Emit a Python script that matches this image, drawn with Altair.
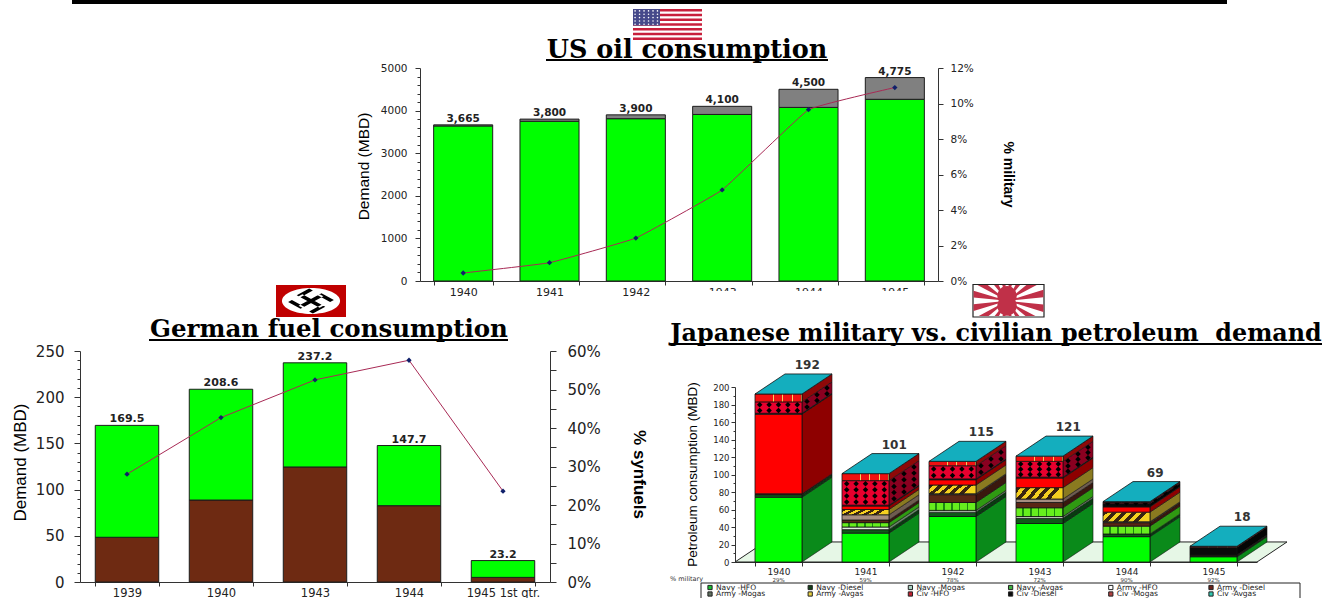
import math
import altair as alt
import pandas as pd

# ---- oil and fuel figures -------------------------------------------------
us_years = ["1940", "1941", "1942", "1943", "1944", "1945"]
us_total = [3665, 3800, 3900, 4100, 4500, 4775]
us_civil = [3640, 3750, 3810, 3910, 4075, 4265]
us_military_pct = [0.45, 1.03, 2.42, 5.13, 9.65, 10.9]

de_years = ["1939", "1940", "1943", "1944", "1945 1st qtr."]
de_total = [169.5, 208.6, 237.2, 147.7, 23.2]
de_lower = [48.4, 88.7, 124.5, 82.6, 5.0]
de_synfuel_pct = [28.0, 42.7, 52.5, 57.6, 23.6]

jp_years = ["1940", "1941", "1942", "1943", "1944", "1945"]
jp_military = ["29%", "59%", "78%", "72%", "90%", "92%"]
jp_series = ["Navy -HFO", "Navy -Diesel", "Navy -Mogas", "Navy -Avgas", "Army -HFO", "Army -Diesel",
             "Army -Mogas", "Army -Avgas", "Civ -HFO", "Civ -Diesel", "Civ -Mogas", "Civ -Avgas"]
jp_values = {
    "Navy -HFO":    [74, 33, 52, 44, 29, 6],
    "Navy -Diesel": [3, 4, 5, 6, 3, 1],
    "Navy -Mogas":  [0, 3, 2, 2, 0, 0],
    "Navy -Avgas":  [0, 5, 9, 10, 9, 0],
    "Army -HFO":    [0, 0, 0, 0, 0, 0],
    "Army -Diesel": [1, 3, 9, 6, 4, 1],
    "Army -Mogas":  [0, 6, 1, 4, 1, 0],
    "Army -Avgas":  [0, 6, 10, 13, 11, 0],
    "Civ -HFO":     [91, 4, 6, 11, 6, 0],
    "Civ -Diesel":  [1, 1, 1, 1, 4, 9],
    "Civ -Mogas":   [13, 28, 15, 18, 1, 0],
    "Civ -Avgas":   [9, 8, 5, 6, 1, 1],
}
jp_front = ["#00ff00", "#0f5a18", "#dfeedd", "#66ee1e", "#f2f2f2", "#5a2616",
            "#a58d80", "#f5d020", "#ff0000", "#0a0a0a", "#e8002e", "#f01010"]
jp_side = ["#0a8a1a", "#083c10", "#6a8a6a", "#2f9a12", "#999999", "#3a180e",
           "#6e5c50", "#8a7a20", "#8e0000", "#050505", "#8a0020", "#8e0808"]
jp_swatch = ["#18c030", "#124018", "#a8d0c0", "#40b040", "#ffffff", "#6a2018",
             "#607060", "#e8d040", "#c02030", "#0a0a0a", "#b04040", "#30c8b0"]

GREEN = "#00ff00"
BAR_EDGE = "#1c1c1c"
LINE = "#a82a55"
MARKER = "#10206a"
TEAL = "#14aebe"
SANS = "Liberation Sans"
WIDE = "DejaVu Sans"

W, H = 1338, 598
layers = []


def frame(**cols):
    return pd.DataFrame(cols)


one = frame(a=[0])


def base_axis(size, **kw):
    opts = dict(labelFont=WIDE, labelFontSize=size, labelColor="#222222", domainColor="#333333",
                tickColor="#333333", grid=False, labelOverlap=False, labelFlush=False,
                labelBound=False, title=None)
    opts.update(kw)
    return alt.Axis(**opts)


def band_panel(years, rng, inner, label_size, label_pad, y_bottom):
    """Returns a function making an X encoding on the shared category band of a panel."""
    scale = alt.Scale(domain=years, range=rng, paddingInner=inner, paddingOuter=inner / 2)
    axis = base_axis(label_size, orient="bottom", offset=y_bottom - H, labelAngle=0, tickBand="extent",
                     tickSize=4, labelPadding=label_pad, labelBaseline="top")

    def make(show_axis=False):
        return alt.X("year:N", scale=scale, sort=None, axis=axis if show_axis else None)
    return make


def minor_ticks(yscale, values, x_pos, orient, size=3):
    offset = -x_pos if orient == "left" else x_pos - W
    axis = alt.Axis(orient=orient, offset=offset, values=values, labels=False, domain=False, title=None,
                    grid=False, tickSize=size, tickColor="#333333")
    return alt.Chart(one).mark_rule(opacity=0).encode(
        y=alt.Y("a:Q", scale=yscale, axis=axis))


def text_at(text, x, y, size, font=WIDE, weight="normal", color="black", align="center", baseline="alphabetic"):
    return alt.Chart(one).mark_text(text=text, font=font, fontSize=size, fontWeight=weight, color=color,
                                    align=align, baseline=baseline).encode(x=alt.value(x), y=alt.value(y))


def box(x0, x1, y0, y1, fill, stroke=None, width=0):
    kw = dict(fill=fill, strokeWidth=width)
    if stroke:
        kw["stroke"] = stroke
    return alt.Chart(one).mark_rect(**kw).encode(
        x=alt.value(x0), x2=alt.value(x1), y=alt.value(y0), y2=alt.value(y1))


def glyph(path, x, y, width_px, fill):
    return alt.Chart(one).mark_point(shape=path, filled=True, fill=fill, opacity=1, size=width_px ** 2,
                                     strokeWidth=0).encode(x=alt.value(x), y=alt.value(y))


def title_block(text, cx, base, size, x0, x1, rule_y):
    return [text_at(text, cx, base, size, font="DejaVu Serif", weight="bold"),
            alt.Chart(one).mark_rule(color="black", strokeWidth=2).encode(
                x=alt.value(x0), x2=alt.value(x1), y=alt.value(rule_y))]


def pct_panel(make_x, years, total, lower, lower_color, upper_color, pct, yscale, rscale, label_fmt,
              label_size, line_kw, y_axis, r_axis):
    rows = frame(year=years, total=total, lower=lower, pct=pct, zero=[0] * len(years))
    out = [
        alt.Chart(rows).mark_bar(fill=lower_color, stroke=BAR_EDGE, strokeWidth=1).encode(
            x=make_x(True), y=alt.Y("lower:Q", scale=yscale, axis=y_axis), y2="zero:Q"),
        alt.Chart(rows).mark_bar(fill=upper_color, stroke=BAR_EDGE, strokeWidth=1).encode(
            x=make_x(), y=alt.Y("total:Q", scale=yscale, axis=None), y2="lower:Q"),
        alt.Chart(rows).mark_line(color=LINE, strokeWidth=1, **line_kw).encode(
            x=make_x(), y=alt.Y("pct:Q", scale=rscale, axis=r_axis)),
        alt.Chart(rows).mark_point(shape="diamond", filled=True, fill=MARKER, opacity=1, size=28).encode(
            x=make_x(), y=alt.Y("pct:Q", scale=rscale, axis=None)),
        alt.Chart(rows).mark_text(font=WIDE, fontWeight="bold", fontSize=label_size, color="#222222",
                                  baseline="bottom", dy=-1).encode(
            x=make_x(), y=alt.Y("total:Q", scale=yscale, axis=None),
            text=alt.Text("total:Q", format=label_fmt)),
    ]
    return out


PCT_EXPR = "datum.value + '%'"

# ---- banner rule across the top -------------------------------------------
layers.append(box(72, 1227, 0, 4, "black"))

# ---- US panel -------------------------------------------------------------
us_y = alt.Scale(domain=[0, 5000], range=[281, 68])
us_r = alt.Scale(domain=[0, 12], range=[281, 68])
us_x = band_panel(us_years, [420, 938], 0.316, 11, 1, 281)
us_left = base_axis(10.5, orient="left", offset=-420, values=[0, 1000, 2000, 3000, 4000, 5000], tickSize=5,
                    labelPadding=8, format="d", title="Demand (MBD)", titleFont=SANS, titleFontSize=15.5,
                    titleFontWeight="normal", titleColor="black", titleX=-49, titleY=166)
us_right = base_axis(10.5, orient="right", offset=938 - W, values=[0, 2, 4, 6, 8, 10, 12], tickSize=5,
                     labelPadding=7, labelExpr=PCT_EXPR, title="% military", titleFont=SANS,
                     titleFontSize=14, titleFontWeight="bold", titleColor="black", titleAngle=90,
                     titleX=62, titleY=174)
layers.append(minor_ticks(us_y, list(range(200, 5000, 200)), 420, "left"))
layers += pct_panel(us_x, us_years, us_total, us_civil, GREEN, "#808080", us_military_pct, us_y, us_r, ",",
                    10.5, dict(interpolate="cardinal", tension=0.75), us_left, us_right)
# the lower title band sits over the end of the US year labels
layers.append(box(670, 1000, 291, 300, "white"))

# ---- German panel ---------------------------------------------------------
de_y = alt.Scale(domain=[0, 250], range=[582, 351])
de_r = alt.Scale(domain=[0, 60], range=[582, 351])
de_x = band_panel(de_years, [80, 550], 0.325, 11.5, 1, 582)
de_left = base_axis(15, orient="left", offset=-80, values=[0, 50, 100, 150, 200, 250], tickSize=6,
                    labelPadding=10, title="Demand (MBD)", titleFont=SANS, titleFontSize=17,
                    titleFontWeight="normal", titleColor="black", titleX=-51, titleY=462)
de_right = base_axis(15, orient="right", offset=550 - W, values=[0, 10, 20, 30, 40, 50, 60], tickSize=6,
                     labelPadding=11, labelExpr=PCT_EXPR, title="% synfuels", titleFont=SANS,
                     titleFontSize=17, titleFontWeight="bold", titleColor="black", titleAngle=90,
                     titleX=79, titleY=474)
layers.append(minor_ticks(de_y, list(range(10, 250, 10)), 80, "left"))
layers.append(minor_ticks(de_r, list(range(5, 60, 10)), 550, "right", 6))
layers += pct_panel(de_x, de_years, de_total, de_lower, "#6e2a12", GREEN, de_synfuel_pct, de_y, de_r, ".1f",
                    11, dict(), de_left, de_right)

# ---- Japanese panel: stacked columns drawn with a depth offset ------------
BAND = 0.54
DX = 0.345          # depth along the category scale
DZ = 22.9           # depth along the value scale
jp_q = alt.Scale(domain=[0, 6], range=[735, 1257])
jp_v = alt.Scale(domain=[0, 200], range=[562, 387])
jp_band = band_panel(jp_years, [735, 1257], 0.46, 9, 1, 562)

jp_left = base_axis(8.5, orient="left", offset=-735, values=list(range(0, 201, 20)), tickSize=4,
                    labelPadding=2, title="Petroleum consumption (MBD)", titleFont=SANS, titleFontSize=13.5,
                    titleFontWeight="normal", titleColor="black", titleX=-36, titleY=474)
layers.append(minor_ticks(jp_v, list(range(10, 200, 20)), 735, "left", 2))


def qx(field="x"):
    return alt.X(f"{field}:Q", scale=jp_q, axis=None)


def vy(field="y", axis=None):
    return alt.Y(f"{field}:Q", scale=jp_v, axis=axis)


# floor of the chart
floor = frame(x=[0, DX, 6, 6 + DX], low=[0, 0, 0, DZ], high=[0, DZ, DZ, DZ])
layers.append(alt.Chart(floor).mark_area(fill="#e6f7e6", stroke="#222222", strokeWidth=1).encode(
    x=qx(), y=vy("high"), y2="low:Q"))

# category axis and value axis, carried by a transparent layer
layers.append(alt.Chart(frame(year=jp_years, v=[0] * 6)).mark_bar(opacity=0).encode(
    x=jp_band(True), y=vy("v", jp_left)))

stripes_tick = lambda a, b, n, w=0.018: alt.LinearGradient(
    gradient="linear", x1=0, y1=0, x2=1, y2=0,
    stops=[s for k in range(n) for s in (
        alt.GradientStop(offset=k / n, color=a), alt.GradientStop(offset=(k + 1) / n - w, color=a),
        alt.GradientStop(offset=(k + 1) / n - w, color=b), alt.GradientStop(offset=(k + 1) / n, color=b))])
hatch = alt.LinearGradient(
    gradient="linear", x1=0, y1=0, x2=1, y2=0.21,
    stops=[s for k in range(5) for s in (
        alt.GradientStop(offset=k / 5, color="#3a2410"), alt.GradientStop(offset=(k + 0.5) / 5, color="#3a2410"),
        alt.GradientStop(offset=(k + 0.5) / 5, color="#f5d020"), alt.GradientStop(offset=(k + 1) / 5, color="#f5d020"))])
front_fill = {name: color for name, color in zip(jp_series, jp_front)}
front_fill["Navy -Avgas"] = stripes_tick("#66ee1e", "#1c8a10", 6, 0.03)
front_fill["Army -Avgas"] = hatch
front_fill["Civ -Avgas"] = stripes_tick("#f01010", "#f5d060", 5)

running = [0] * 6
for name, front, side in zip(jp_series, jp_front, jp_side):
    vals = jp_values[name]
    keep = [i for i, v in enumerate(vals) if v > 0]
    if keep:
        lo = [running[i] for i in keep]
        hi = [running[i] + vals[i] for i in keep]
        x0 = [i + 0.5 - BAND / 2 for i in keep]
        x1 = [i + 0.5 + BAND / 2 for i in keep]
        rows = frame(x0=x0, x1=x1, lo=lo, hi=hi)
        sides = pd.concat([
            frame(x=[x1[k], x1[k] + DX], lo=[lo[k], lo[k] + DZ], hi=[hi[k], hi[k] + DZ], year=[keep[k]] * 2)
            for k in range(len(keep))])
        layers.append(alt.Chart(sides).mark_area(fill=side, stroke="#111111", strokeWidth=0.6).encode(
            x=qx(), y=vy("hi"), y2="lo:Q", detail="year:N"))
        layers.append(alt.Chart(rows).mark_rect(fill=front_fill[name], stroke="#111111", strokeWidth=0.8).encode(
            x=qx("x0"), x2="x1:Q", y=vy("hi"), y2="lo:Q"))
        if name == "Civ -Mogas":
            px, py = [], []
            for k, i in enumerate(keep):
                n_rows = max(1, round(vals[i] / 7))
                for r in range(n_rows):
                    yv = lo[k] + (r + 0.5) * vals[i] / n_rows
                    for c in range(5):
                        px.append(x0[k] + (c + 0.5) * BAND / 5)
                        py.append(yv)
                    for c in range(3):
                        t = (c + 0.5) / 3
                        px.append(x1[k] + t * DX)
                        py.append(yv + t * DZ)
            layers.append(alt.Chart(frame(x=px, y=py)).mark_point(
                shape="diamond", filled=True, fill="black", opacity=1, size=30).encode(x=qx(), y=vy()))
    running = [r + v for r, v in zip(running, vals)]

# lid of every column and the total above it
lids = pd.concat([
    frame(x=[i + 0.5 - BAND / 2, i + 0.5 - BAND / 2 + DX, i + 0.5 + BAND / 2, i + 0.5 + BAND / 2 + DX],
          low=[t, t, t, t + DZ], high=[t, t + DZ, t + DZ, t + DZ], year=[i] * 4)
    for i, t in enumerate(running)])
layers.append(alt.Chart(lids).mark_area(fill=TEAL, stroke="#111111", strokeWidth=0.8).encode(
    x=qx(), y=vy("high"), y2="low:Q", detail="year:N"))
tops = frame(x=[i + 0.5 + 0.33 for i in range(6)], y=[t + DZ for t in running], t=running)
layers.append(alt.Chart(tops).mark_text(font=WIDE, fontWeight="bold", fontSize=12, color="#333333",
                                        baseline="bottom", dy=-2).encode(
    x=qx(), y=vy(), text="t:Q"))

# military share under the year labels
layers.append(alt.Chart(frame(year=jp_years, share=jp_military)).mark_text(
    font=WIDE, fontSize=5.5, color="#333333", baseline="middle").encode(
    x=jp_band(), y=alt.value(579.5), text="share:N"))
layers.append(text_at("% military", 670, 579, 6.5, color="#333333", align="left", baseline="middle"))

# legend box with two rows of six entries
layers.append(box(701, 1300, 583, 604, "white", "#222222", 1))
leg = frame(name=jp_series, swatch=jp_swatch, col=[i % 6 for i in range(12)], row=[i // 6 for i in range(12)])
leg_x = alt.Scale(domain=[0, 5], range=[710, 1211])
leg_y = alt.Scale(domain=[0, 1], range=[587.5, 594])
layers.append(alt.Chart(leg).mark_square(size=18, stroke="#222222", strokeWidth=1, opacity=1).encode(
    x=alt.X("col:Q", scale=leg_x, axis=None), y=alt.Y("row:Q", scale=leg_y, axis=None),
    fill=alt.Fill("swatch:N", scale=None)))
layers.append(alt.Chart(leg).mark_text(font=WIDE, fontSize=7.5, color="#222222", align="left", dx=6,
                                       baseline="middle").encode(
    x=alt.X("col:Q", scale=leg_x, axis=None), y=alt.Y("row:Q", scale=leg_y, axis=None), text="name:N"))

# ---- panel titles ---------------------------------------------------------
layers += title_block("US oil consumption", 687, 57.5, 25.5, 546, 828, 60)
layers += title_block("German fuel consumption", 329, 337, 24.5, 149, 508, 340)
layers += title_block("Japanese military vs. civilian petroleum\u00a0 demand", 996, 341, 23.8, 670, 1322, 344)

# ---- flags ----------------------------------------------------------------
# US: thirteen stripes, canton and a field of stars
flag_x = alt.Scale(domain=[0, 1], range=[633, 702])
flag_y = alt.Scale(domain=[0, 13], range=[9, 40])
stripe_rows = frame(a=[0] * 7, b=[1] * 7, lo=list(range(0, 13, 2)), hi=list(range(1, 14, 2)))
layers.append(box(633, 702, 9, 40, "white"))
layers.append(alt.Chart(stripe_rows).mark_rect(fill="#c8203c").encode(
    x=alt.X("a:Q", scale=flag_x, axis=None), x2="b:Q",
    y=alt.Y("lo:Q", scale=flag_y, axis=None), y2="hi:Q"))
layers.append(box(633, 660, 9, 25.5, "#46498a"))
stars = frame(x=[0.03 + 0.065 * c for r in range(5) for c in range(6)],
              y=[0.8 + 1.4 * r for r in range(5) for c in range(6)])
layers.append(alt.Chart(stars).mark_point(filled=True, fill="white", opacity=1, size=2.5, shape="circle").encode(
    x=alt.X("x:Q", scale=flag_x, axis=None), y=alt.Y("y:Q", scale=flag_y, axis=None)))


def poly(points):
    return "M" + "L".join(f"{x:.3f} {y:.3f}" for x, y in points) + "Z"


# German flag: red field, white disc and the rotated emblem
layers.append(box(276, 346, 285, 317, "#c00000"))
disc = "M-0.83 0A0.83 0.37 0 1 1 0.83 0A0.83 0.37 0 1 1 -0.83 0Z"
layers.append(glyph(disc, 311, 301, 70, "white"))


def emblem_path(sx, sy, t=0.18):
    parts = []
    arm = [[(-t, t), (-t, -1), (t, -1), (t, t)], [(-t, -1 + t), (1, -1 + t), (1, -1 - t), (-t, -1 - t)]]
    c45 = math.cos(math.pi / 4)
    for turn in range(4):
        a = turn * math.pi / 2 + math.pi / 4
        for rect in arm:
            pts = []
            for x, y in rect:
                xr = x * math.cos(a) - y * math.sin(a)
                yr = x * math.sin(a) + y * math.cos(a)
                pts.append((xr * sx * c45, yr * sy * c45))
            parts.append(poly(pts))
    return "".join(parts)


layers.append(glyph(emblem_path(0.6, 0.33), 311, 301, 70, "black"))

# Japanese naval flag: white field with sixteen rays around a red disc
layers.append(box(973, 1044, 284.5, 317, "white", "#222222", 1.2))
FX, FY, HW, HH = -0.04, 0.01, 0.97, 0.43


def edge_point(angle):
    dx, dy = math.cos(angle), math.sin(angle)
    ts = []
    if dx > 1e-9:
        ts.append((HW - FX) / dx)
    if dx < -1e-9:
        ts.append((-HW - FX) / dx)
    if dy > 1e-9:
        ts.append((HH - FY) / dy)
    if dy < -1e-9:
        ts.append((-HH - FY) / dy)
    t = min(ts)
    return FX + t * dx, FY + t * dy


rays = []
for k in range(16):
    a0 = k * math.pi / 8 - math.pi / 32 - math.pi / 16
    pts = [(FX, FY)] + [edge_point(a0 + s * math.pi / 64) for s in range(5)]
    rays.append(poly(pts))
layers.append(glyph("".join(rays), 1008.5, 300.5, 72, "#c03048"))
layers.append(glyph("M-0.27 0.01A0.27 0.27 0 1 1 0.19 0.01A0.27 0.27 0 1 1 -0.27 0.01Z", 1008.5, 300.5, 72, "#c03048"))

chart = alt.layer(*layers).resolve_scale(x="independent", y="independent").properties(
    width=W, height=H, padding=0, autosize=alt.AutoSizeParams(type="none"), background="white"
).configure_view(stroke=None)

chart.save("out.html", embed_options={"renderer": "svg", "actions": False})
